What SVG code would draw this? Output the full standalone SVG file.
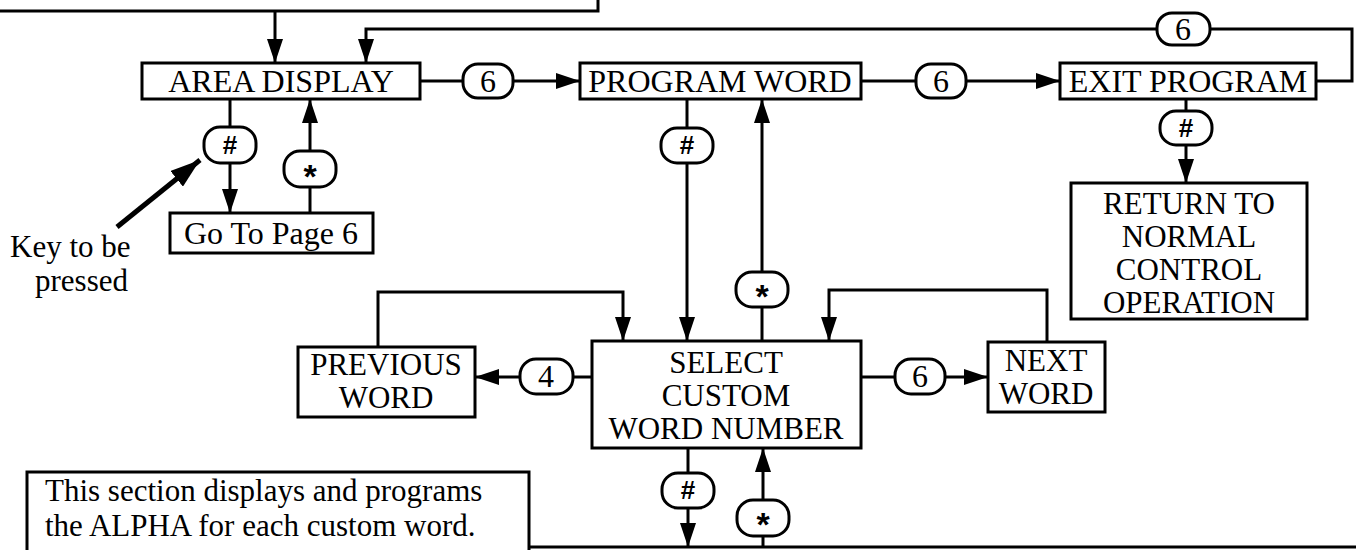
<svg xmlns="http://www.w3.org/2000/svg" width="1356" height="550" viewBox="0 0 1356 550">
<defs>
<style>
.bx{fill:#fff;stroke:#000;stroke-width:3}
.ov{fill:#fff;stroke:#000;stroke-width:3}
.ln{fill:none;stroke:#000;stroke-width:3}
.t{font-family:"Liberation Serif","Times New Roman",serif;font-size:32px;fill:#000;text-anchor:middle}
.m{font-family:"Liberation Serif","Times New Roman",serif;font-size:31px;fill:#000;text-anchor:middle}
.tl{font-family:"Liberation Serif","Times New Roman",serif;font-size:31px;fill:#000}
.h{font-family:"Liberation Sans",Arial,sans-serif;font-size:26px;font-weight:bold;fill:#000;text-anchor:middle}
.s{font-family:"Liberation Sans",Arial,sans-serif;font-size:34px;font-weight:bold;fill:#000;text-anchor:middle}
</style>
<marker id="ah" viewBox="0 0 24 16" refX="24" refY="8" markerWidth="24" markerHeight="16" orient="auto" markerUnits="userSpaceOnUse">
<path d="M0,0 L24,8 L0,16 z" fill="#000"/>
</marker>
<marker id="ahk" viewBox="0 0 30 20" refX="30" refY="10" markerWidth="30" markerHeight="20" orient="auto" markerUnits="userSpaceOnUse">
<path d="M0,0 L30,10 L0,20 z" fill="#000"/>
</marker>
</defs>
<rect width="1356" height="550" fill="#fff"/>

<g id="connectors">
<path class="ln" d="M0,11 H598 V0"/>
<path class="ln" d="M275,11 V63" marker-end="url(#ah)"/>
<path class="ln" d="M1316,81 H1352 V29 H366 V63" marker-end="url(#ah)"/>
<path class="ln" d="M420,81 H488"/>
<path class="ln" d="M488,81 H580" marker-end="url(#ah)"/>
<path class="ln" d="M861,81 H941"/>
<path class="ln" d="M941,81 H1060" marker-end="url(#ah)"/>
<path class="ln" d="M230,99 V145"/>
<path class="ln" d="M230,145 V213" marker-end="url(#ah)"/>
<path class="ln" d="M310,213 V169"/>
<path class="ln" d="M310,169 V99" marker-end="url(#ah)"/>
<path class="ln" d="M687,99 V145"/>
<path class="ln" d="M687,145 V341" marker-end="url(#ah)"/>
<path class="ln" d="M762,341 V290"/>
<path class="ln" d="M762,290 V99" marker-end="url(#ah)"/>
<path class="ln" d="M1186,99 V128"/>
<path class="ln" d="M1186,128 V183" marker-end="url(#ah)"/>
<path class="ln" d="M378,347 V292 H623 V341" marker-end="url(#ah)"/>
<path class="ln" d="M1047,342 V290 H829 V341" marker-end="url(#ah)"/>
<path class="ln" d="M592,377 H546"/>
<path class="ln" d="M546,377 H475" marker-end="url(#ah)"/>
<path class="ln" d="M861,377 H920"/>
<path class="ln" d="M920,377 H988" marker-end="url(#ah)"/>
<path class="ln" d="M688,448 V490"/>
<path class="ln" d="M688,490 V547" marker-end="url(#ah)"/>
<path class="ln" d="M763,547 V508"/>
<path class="ln" d="M763,508 V448" marker-end="url(#ah)"/>
<path class="ln" d="M529,547 H1356"/>
<path d="M117,227 L200,160" fill="none" stroke="#000" stroke-width="5" marker-end="url(#ahk)"/>
</g>

<g id="area-display">
<rect class="bx" x="142" y="63" width="278" height="36"/>
<text class="t" x="281" y="92">AREA DISPLAY</text>
</g>
<g id="key-6a">
<rect class="ov" x="463" y="64" width="50" height="34" rx="15"/>
<text class="t" x="488" y="92">6</text>
</g>
<g id="program-word">
<rect class="bx" x="580" y="63" width="281" height="36"/>
<text class="t" x="720" y="92">PROGRAM WORD</text>
</g>
<g id="key-6b">
<rect class="ov" x="916" y="64" width="50" height="34" rx="15"/>
<text class="t" x="941" y="92">6</text>
</g>
<g id="exit-program">
<rect class="bx" x="1060" y="63" width="256" height="36"/>
<text class="t" x="1188" y="92">EXIT PROGRAM</text>
</g>
<g id="key-6-top">
<rect class="ov" x="1157" y="13" width="53" height="32" rx="15"/>
<text class="t" x="1183" y="40">6</text>
</g>
<g id="key-hash-area">
<rect class="ov" x="204" y="127" width="52" height="36" rx="16"/>
<text class="h" x="230" y="154">#</text>
</g>
<g id="key-star-area">
<rect class="ov" x="284" y="151" width="52" height="36" rx="16"/>
<text class="s" x="310" y="188">*</text>
</g>
<g id="go-to-page-6">
<rect class="bx" x="170" y="213" width="203" height="40"/>
<text class="t" x="271" y="244">Go To Page 6</text>
</g>
<g id="key-label">
<text class="tl" x="10" y="257">Key to be</text>
<text class="tl" x="35" y="291">pressed</text>
</g>
<g id="key-hash-program">
<rect class="ov" x="661" y="128" width="52" height="35" rx="16"/>
<text class="h" x="687" y="154">#</text>
</g>
<g id="key-star-program">
<rect class="ov" x="736" y="272" width="52" height="35" rx="16"/>
<text class="s" x="762" y="308">*</text>
</g>
<g id="key-hash-exit">
<rect class="ov" x="1160" y="111" width="52" height="34" rx="16"/>
<text class="h" x="1186" y="137">#</text>
</g>
<g id="return-normal">
<rect class="bx" x="1071" y="183" width="236" height="136"/>
<text class="m" x="1189" y="214">RETURN TO</text>
<text class="m" x="1189" y="247">NORMAL</text>
<text class="m" x="1189" y="280">CONTROL</text>
<text class="m" x="1189" y="313">OPERATION</text>
</g>
<g id="previous-word">
<rect class="bx" x="298" y="347" width="177" height="70"/>
<text class="m" x="386" y="375">PREVIOUS</text>
<text class="m" x="386" y="408">WORD</text>
</g>
<g id="key-4">
<rect class="ov" x="520" y="359" width="53" height="35" rx="16"/>
<text class="t" x="546" y="387">4</text>
</g>
<g id="select-custom">
<rect class="bx" x="592" y="341" width="269" height="107"/>
<text class="m" x="726" y="373">SELECT</text>
<text class="m" x="726" y="406">CUSTOM</text>
<text class="m" x="726" y="439">WORD NUMBER</text>
</g>
<g id="key-6c">
<rect class="ov" x="895" y="359" width="50" height="35" rx="16"/>
<text class="t" x="920" y="387">6</text>
</g>
<g id="next-word">
<rect class="bx" x="988" y="342" width="117" height="70"/>
<text class="m" x="1046" y="371">NEXT</text>
<text class="m" x="1046" y="404">WORD</text>
</g>
<g id="key-hash-select">
<rect class="ov" x="662" y="473" width="52" height="35" rx="16"/>
<text class="h" x="688" y="499">#</text>
</g>
<g id="key-star-select">
<rect class="ov" x="737" y="500" width="52" height="36" rx="16"/>
<text class="s" x="763" y="536">*</text>
</g>
<g id="note">
<path class="ln" d="M27,552 V472 H529 V552"/>
<text class="tl" x="45" y="501">This section displays and programs</text>
<text class="tl" x="45" y="536">the ALPHA for each custom word.</text>
</g>
</svg>
